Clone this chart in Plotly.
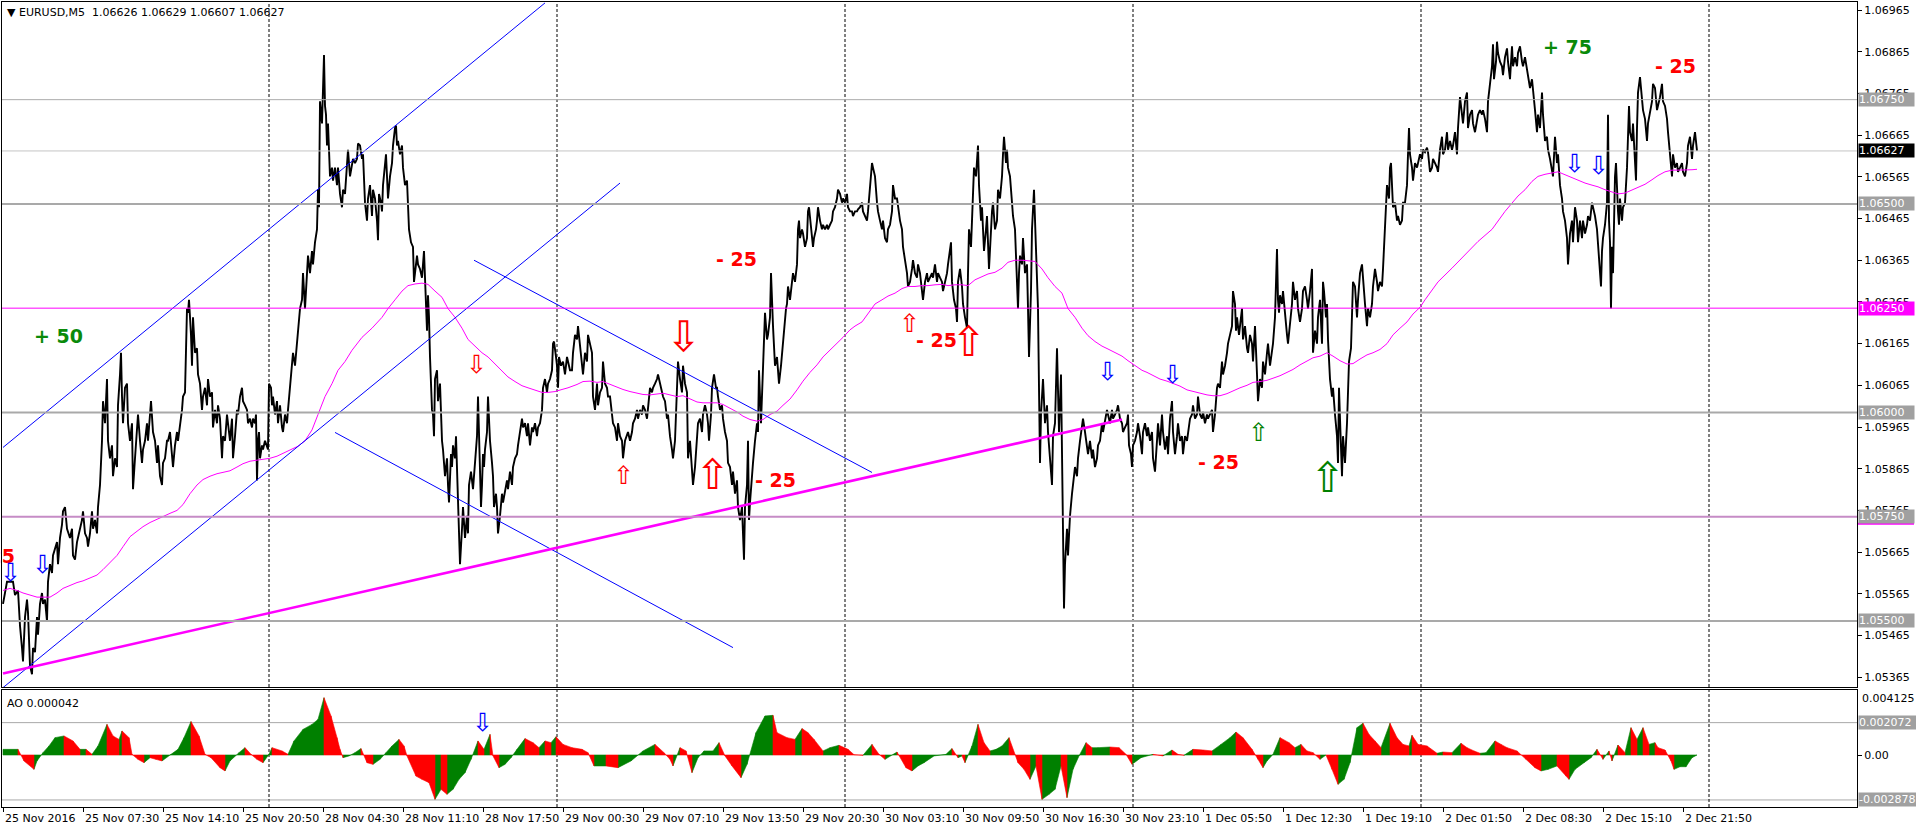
import plotly.graph_objects as go

FONT = "DejaVu Sans"

# ---------------- price path (bar index, price) ----------------
day1 = [(0,1.05541),(4,1.05594),(10,1.05594),(12,1.05562),(15,1.05573),(17,1.05488),(19,1.05435),(20,1.05403),(22,1.05509),(24,1.05551),(25,1.05520),(27,1.05393),(29,1.05372),(30,1.05435),(32,1.05425),(34,1.05509),(35,1.05467),(37,1.05541),(39,1.05567),(40,1.05541),(42,1.05551),(44,1.05499),(45,1.05594),(47,1.05636),(49,1.05615),(50,1.05657),(54,1.05689),(55,1.05636),(57,1.05699),(59,1.05731),(60,1.05763),(62,1.05773),(64,1.05721),(67,1.05699),(69,1.05721),(70,1.05657),(72,1.05647),(74,1.05689),(77,1.05721),(79,1.05742),(80,1.05763),(82,1.05710),(84,1.05699),(85,1.05678),(87,1.05710),(89,1.05763),(90,1.05721),(92,1.05742),(94,1.05710),(95,1.05773),(97,1.05826),(99,1.05932),(100,1.06027),(102,1.05974),(104,1.06080),(105,1.05932),(107,1.05890),(109,1.05921),(110,1.05847),(112,1.05890),(114,1.05869),(115,1.06017),(117,1.06091),(118,1.06143),(119,1.06038),(120,1.05974),(122,1.06059),(124,1.06069),(125,1.05974),(127,1.05932),(129,1.05974),(130,1.05816),(132,1.05890),(134,1.05974),(135,1.05995),(137,1.05932),(139,1.05879),(140,1.05911),(142,1.05932),(144,1.05974),(145,1.05932),(147,1.05995),(148,1.06027),(150,1.05953),(152,1.05932),(154,1.05879),(155,1.05921),(157,1.05847),(159,1.05826),(160,1.05879),(162,1.05890),(164,1.05932),(165,1.05932),(167,1.05953),(169,1.05900),(170,1.05869),(172,1.05921),(174,1.05953),(175,1.05932),(177,1.05964),(179,1.06006),(180,1.06038),(182,1.06048),(184,1.06249),(185,1.06239),(186,1.06270),(188,1.06186),(189,1.06112),(190,1.06228),(192,1.06143),(194,1.06154),(195,1.06091),(197,1.06069),(199,1.06006),(200,1.06038),(202,1.06059),(204,1.06017),(205,1.06080),(207,1.06038),(209,1.06048),(210,1.05964),(212,1.06006),(214,1.05974),(215,1.06017),(217,1.05985),(219,1.05890),(220,1.05943),(222,1.05932),(224,1.05995),(225,1.05974),(227,1.05932),(229,1.05985),(230,1.05890),(232,1.05943),(234,1.06006),(235,1.05995),(237,1.06038),(239,1.06059),(240,1.06027),(242,1.06017),(244,1.06006),(245,1.05974),(247,1.05985),(249,1.05964),(250,1.05985),(252,1.05974),(253,1.05995),(254,1.05837),(255,1.05932),(256,1.05953),(257,1.05890),(259,1.05921),(260,1.05911),(262,1.05932),(264,1.05921),(265,1.05911),(266,1.06069),(268,1.06059),(269,1.06017),(270,1.06038),(272,1.05995),(274,1.06027),(275,1.05974),(277,1.06017),(279,1.05964),(280,1.05953),(282,1.05995)]
day2 = [(284,1.05974),(285,1.06006),(287,1.06059),(289,1.06101),(290,1.06143),(292,1.06112),(294,1.06165),(295,1.06207),(297,1.06249),(299,1.06270),(300,1.06334),(302,1.06249),(304,1.06334),(305,1.06376),(307,1.06334),(309,1.06387),(310,1.06355),(312,1.06408),(314,1.06439),(315,1.06534),(316,1.06492),(317,1.06746),(319,1.06693),(320,1.06778),(321,1.06857),(322,1.06735),(323,1.06714),(324,1.06640),(325,1.06693),(326,1.06630),(327,1.06566),(329,1.06587),(330,1.06556),(332,1.06587),(334,1.06545),(335,1.06587),(337,1.06524),(339,1.06492),(340,1.06534),(342,1.06524),(344,1.06587),(345,1.06630),(347,1.06566),(349,1.06598),(350,1.06608),(352,1.06598),(354,1.06608),(355,1.06645),(357,1.06640),(359,1.06608),(360,1.06619),(362,1.06503),(364,1.06460),(365,1.06513),(367,1.06545),(369,1.06471),(370,1.06534),(372,1.06513),(374,1.06460),(375,1.06413),(376,1.06524),(378,1.06503),(379,1.06482),(380,1.06545),(382,1.06587),(383,1.06619),(385,1.06513),(386,1.06545),(387,1.06566),(389,1.06598),(390,1.06640),(392,1.06682),(393,1.06688),(394,1.06640),(395,1.06651),(397,1.06619),(399,1.06640),(400,1.06587),(402,1.06545),(404,1.06556),(405,1.06513),(406,1.06439),(408,1.06408),(410,1.06397),(411,1.06313),(413,1.06355),(414,1.06376),(415,1.06355),(417,1.06344),(419,1.06323),(420,1.06365),(421,1.06387),(422,1.06323),(423,1.06249),(424,1.06196),(425,1.06281),(426,1.06228),(427,1.06133),(429,1.06006),(430,1.05995),(431,1.05943),(432,1.06080),(434,1.06101),(435,1.06027),(437,1.06069),(439,1.05932),(440,1.05911),(442,1.05847),(444,1.05890),(445,1.05826),(446,1.05784),(448,1.05900),(449,1.05869),(450,1.05921),(452,1.05890),(453,1.05943),(454,1.05858),(455,1.05784),(456,1.05742),(457,1.05636),(459,1.05721),(460,1.05773),(462,1.05699),(464,1.05752),(465,1.05710),(466,1.05826),(468,1.05858),(469,1.05837),(470,1.05816),(472,1.05879),(474,1.05943),(475,1.06038),(476,1.05932),(478,1.05773),(479,1.05826),(480,1.05900),(481,1.05869),(482,1.05911),(484,1.05953),(485,1.06038),(486,1.05985),(487,1.05932),(489,1.05879),(490,1.05847),(491,1.05773),(493,1.05805),(494,1.05773),(495,1.05710),(497,1.05752),(499,1.05805),(500,1.05784),(502,1.05816),(504,1.05837),(505,1.05816),(507,1.05858),(509,1.05826),(510,1.05869),(512,1.05890),(514,1.05900),(515,1.05921),(517,1.05953),(519,1.05985),(520,1.05964),(522,1.05974),(524,1.05943),(525,1.05974),(527,1.05921),(529,1.05964),(530,1.05953),(532,1.05974),(534,1.05943),(535,1.05964),(537,1.05974),(539,1.06006),(540,1.06059),(542,1.06080),(544,1.06048),(545,1.06069),(547,1.06080),(549,1.06101),(550,1.06165),(551,1.06170),(553,1.06133),(554,1.06112),(555,1.06059),(556,1.06133),(558,1.06112),(560,1.06122),(562,1.06091),(564,1.06133),(565,1.06122),(567,1.06101)]
day3 = [(569,1.06101),(570,1.06143),(572,1.06186),(574,1.06175),(575,1.06207),(577,1.06165),(579,1.06122),(580,1.06091),(582,1.06143),(584,1.06122),(585,1.06186),(587,1.06165),(589,1.06143),(590,1.06038),(592,1.06006),(594,1.06069),(595,1.06017),(597,1.06048),(599,1.06059),(600,1.06122),(602,1.06069),(604,1.06059),(605,1.06038),(607,1.06038),(609,1.05995),(610,1.05974),(612,1.05964),(614,1.05932),(615,1.05974),(617,1.05943),(619,1.05932),(620,1.05890),(622,1.05932),(624,1.05943),(625,1.05953),(627,1.05932),(629,1.05953),(630,1.05974),(632,1.05985),(634,1.06006),(635,1.05985),(637,1.06006),(639,1.05995),(640,1.06017),(642,1.06006),(644,1.05985),(645,1.06006),(647,1.06059),(649,1.06048),(650,1.06059),(652,1.06069),(654,1.06080),(655,1.06091),(657,1.06069),(659,1.06048),(660,1.06038),(662,1.06027),(664,1.05985),(665,1.05995),(667,1.05943),(669,1.05911),(670,1.05890),(672,1.05932),(673,1.05995),(674,1.06059),(675,1.06122),(677,1.06080),(679,1.06048),(680,1.06112),(682,1.06069),(684,1.06048),(685,1.05890),(687,1.05932),(689,1.05858),(690,1.05826),(692,1.05869),(694,1.05943),(695,1.05974),(697,1.05985),(699,1.05953),(700,1.05995),(702,1.06017),(704,1.05995),(705,1.05974),(706,1.05932),(708,1.05995),(709,1.06059),(711,1.06091),(713,1.06059),(714,1.06059),(715,1.06038),(717,1.06006),(719,1.06017),(720,1.05985),(722,1.05953),(724,1.05932),(725,1.05879),(727,1.05869),(729,1.05826),(730,1.05858),(732,1.05805),(734,1.05837),(735,1.05773),(737,1.05742),(739,1.05773),(740,1.05721),(741,1.05647),(742,1.05773),(744,1.05826),(745,1.05932),(746,1.05742),(747,1.05784),(749,1.05858),(750,1.05879),(752,1.05932),(754,1.05974),(755,1.05953),(756,1.06101),(758,1.05974),(759,1.06038),(760,1.06112),(761,1.06186),(762,1.06239),(764,1.06175),(765,1.06186),(767,1.06228),(768,1.06334),(770,1.06207),(771,1.06143),(772,1.06112),(774,1.06133),(775,1.06091),(776,1.06069),(778,1.06112),(779,1.06143),(780,1.06165),(782,1.06217),(783,1.06249),(784,1.06260),(785,1.06302),(787,1.06270),(789,1.06313),(790,1.06334),(792,1.06313),(794,1.06355),(795,1.06439),(796,1.06460),(797,1.06418),(799,1.06439),(800,1.06429),(802,1.06397),(804,1.06418),(805,1.06482),(806,1.06492),(808,1.06439),(810,1.06397),(811,1.06418),(813,1.06439),(814,1.06460),(815,1.06492),(817,1.06460),(819,1.06439),(820,1.06450),(822,1.06439),(824,1.06450),(825,1.06439),(827,1.06450),(829,1.06460),(830,1.06482),(832,1.06492),(834,1.06513),(835,1.06534),(837,1.06524),(839,1.06503),(840,1.06513),(842,1.06503),(844,1.06524),(845,1.06492),(847,1.06482),(849,1.06482),(850,1.06471),(852,1.06482)]
day4 = [(854,1.06482),(855,1.06487),(857,1.06492),(859,1.06503),(860,1.06482),(862,1.06471),(864,1.06460),(865,1.06482),(867,1.06534),(869,1.06598),(870,1.06587),(872,1.06566),(874,1.06503),(875,1.06482),(877,1.06460),(879,1.06439),(880,1.06460),(882,1.06418),(884,1.06408),(885,1.06439),(887,1.06450),(889,1.06482),(890,1.06545),(892,1.06513),(894,1.06513),(895,1.06492),(897,1.06460),(899,1.06439),(900,1.06397),(902,1.06365),(904,1.06334),(905,1.06302),(907,1.06313),(909,1.06344),(910,1.06365),(912,1.06334),(914,1.06323),(915,1.06355),(917,1.06334),(919,1.06291),(920,1.06270),(922,1.06313),(924,1.06334),(925,1.06313),(927,1.06323),(929,1.06334),(930,1.06323),(932,1.06355),(934,1.06313),(935,1.06334),(937,1.06323),(939,1.06313),(940,1.06291),(942,1.06313),(944,1.06334),(945,1.06355),(947,1.06397),(948,1.06408),(949,1.06313),(951,1.06270),(953,1.06249),(954,1.06217),(955,1.06313),(957,1.06344),(959,1.06302),(960,1.06260),(962,1.06228),(964,1.06202),(965,1.06334),(966,1.06439),(968,1.06397),(969,1.06460),(970,1.06513),(971,1.06587),(973,1.06566),(974,1.06619),(975,1.06640),(976,1.06545),(978,1.06460),(979,1.06492),(980,1.06418),(981,1.06387),(983,1.06439),(984,1.06471),(986,1.06344),(987,1.06397),(989,1.06482),(990,1.06503),(992,1.06439),(994,1.06460),(995,1.06534),(997,1.06513),(999,1.06566),(1000,1.06619),(1001,1.06661),(1003,1.06598),(1004,1.06630),(1005,1.06587),(1007,1.06566),(1009,1.06503),(1010,1.06471),(1012,1.06439),(1014,1.06334),(1015,1.06249),(1016,1.06334),(1017,1.06376),(1019,1.06355),(1020,1.06418),(1022,1.06334),(1024,1.06355),(1025,1.06249),(1026,1.06133),(1028,1.06291),(1029,1.06439),(1031,1.06534),(1032,1.06460),(1034,1.06355),(1035,1.06249),(1036,1.06059),(1037,1.05879),(1038,1.05995),(1039,1.06048),(1040,1.06080),(1042,1.05974),(1044,1.06017),(1045,1.05953),(1047,1.05879),(1049,1.05826),(1050,1.05943),(1052,1.05974),(1054,1.06154),(1055,1.06038),(1056,1.05953),(1058,1.06091),(1059,1.05879),(1060,1.05752),(1061,1.05530),(1062,1.05636),(1064,1.05721),(1065,1.05657),(1067,1.05752),(1069,1.05805),(1070,1.05826),(1072,1.05869),(1074,1.05847),(1075,1.05890),(1077,1.05932),(1079,1.05974),(1080,1.05985),(1082,1.05953),(1084,1.05921),(1085,1.05900),(1087,1.05932),(1089,1.05890),(1090,1.05911),(1092,1.05869),(1094,1.05890),(1095,1.05921),(1097,1.05932),(1099,1.05974),(1100,1.05953),(1102,1.05985),(1104,1.06006),(1105,1.05995),(1107,1.05974),(1109,1.06006),(1110,1.05985),(1112,1.05995),(1114,1.06006),(1115,1.06017),(1117,1.05985),(1119,1.05974),(1120,1.05953),(1122,1.05964),(1124,1.05974),(1125,1.05995),(1126,1.05921),(1128,1.05900),(1129,1.05869),(1130,1.05921),(1132,1.05932),(1134,1.05953),(1135,1.05974),(1137,1.05943)]
day5 = [(1139,1.05900),(1140,1.05953),(1142,1.05974),(1144,1.05943),(1145,1.05964),(1147,1.05932),(1149,1.05953),(1150,1.05890),(1152,1.05858),(1154,1.05932),(1155,1.05974),(1157,1.05921),(1159,1.05995),(1160,1.05953),(1162,1.05911),(1164,1.05943),(1165,1.05900),(1167,1.05985),(1169,1.06027),(1170,1.05953),(1172,1.05900),(1174,1.05943),(1175,1.05974),(1177,1.05932),(1179,1.05943),(1180,1.05900),(1182,1.05943),(1184,1.05932),(1185,1.05953),(1187,1.05985),(1189,1.05995),(1190,1.06017),(1192,1.05985),(1194,1.05995),(1195,1.06038),(1197,1.05995),(1199,1.05985),(1200,1.06001),(1202,1.05974),(1204,1.05995),(1205,1.05985),(1207,1.05995),(1209,1.06006),(1210,1.05953),(1212,1.05995),(1214,1.06059),(1215,1.06069),(1217,1.06059),(1219,1.06122),(1220,1.06091),(1222,1.06112),(1224,1.06143),(1225,1.06165),(1227,1.06186),(1229,1.06207),(1230,1.06291),(1232,1.06260),(1233,1.06196),(1234,1.06228),(1236,1.06186),(1237,1.06207),(1239,1.06249),(1240,1.06175),(1242,1.06207),(1244,1.06154),(1245,1.06143),(1247,1.06186),(1249,1.06165),(1250,1.06122),(1252,1.06207),(1254,1.06091),(1255,1.06027),(1257,1.06080),(1259,1.06059),(1260,1.06122),(1262,1.06091),(1264,1.06143),(1265,1.06165),(1267,1.06112),(1269,1.06154),(1270,1.06165),(1272,1.06228),(1273,1.06344),(1274,1.06392),(1275,1.06270),(1276,1.06239),(1277,1.06281),(1279,1.06260),(1280,1.06291),(1282,1.06228),(1284,1.06186),(1285,1.06165),(1287,1.06207),(1289,1.06260),(1290,1.06313),(1292,1.06270),(1294,1.06291),(1295,1.06249),(1297,1.06217),(1299,1.06249),(1300,1.06291),(1302,1.06302),(1304,1.06270),(1305,1.06249),(1307,1.06291),(1309,1.06344),(1310,1.06143),(1312,1.06196),(1314,1.06165),(1315,1.06228),(1317,1.06270),(1319,1.06165),(1320,1.06313),(1321,1.06291),(1323,1.06228),(1324,1.06260),(1325,1.06175),(1327,1.06080),(1329,1.06038),(1330,1.06059),(1332,1.05995),(1334,1.05943),(1335,1.05879),(1336,1.06059),(1337,1.05985),(1339,1.05847),(1340,1.05943),(1342,1.05879),(1344,1.05974),(1345,1.06038),(1346,1.06122),(1348,1.06154),(1349,1.06249),(1350,1.06313),(1352,1.06302),(1354,1.06228),(1355,1.06270),(1357,1.06334),(1359,1.06355),(1360,1.06313),(1362,1.06260),(1364,1.06207),(1365,1.06249),(1367,1.06228),(1369,1.06260),(1370,1.06302),(1372,1.06344),(1374,1.06313),(1375,1.06291),(1377,1.06313),(1379,1.06302),(1380,1.06344),(1382,1.06439),(1383,1.06492),(1384,1.06545),(1386,1.06513),(1387,1.06587),(1388,1.06598),(1389,1.06534),(1390,1.06492),(1392,1.06503),(1394,1.06460),(1395,1.06471),(1397,1.06450),(1399,1.06460),(1400,1.06503),(1402,1.06503),(1404,1.06545),(1405,1.06619),(1406,1.06682),(1407,1.06619),(1409,1.06587),(1410,1.06556),(1412,1.06598),(1414,1.06587),(1415,1.06598),(1417,1.06619),(1419,1.06608),(1420,1.06630),(1422,1.06624)]
day6 = [(1424,1.06635),(1425,1.06624),(1427,1.06577),(1429,1.06587),(1430,1.06608),(1432,1.06598),(1434,1.06587),(1435,1.06577),(1437,1.06630),(1439,1.06661),(1440,1.06619),(1442,1.06630),(1444,1.06672),(1445,1.06630),(1447,1.06651),(1449,1.06630),(1450,1.06640),(1452,1.06672),(1454,1.06619),(1455,1.06682),(1457,1.06756),(1459,1.06714),(1460,1.06693),(1462,1.06746),(1464,1.06767),(1465,1.06682),(1467,1.06714),(1469,1.06725),(1470,1.06693),(1472,1.06672),(1474,1.06704),(1475,1.06714),(1477,1.06725),(1479,1.06714),(1480,1.06725),(1482,1.06704),(1484,1.06672),(1485,1.06746),(1487,1.06788),(1489,1.06830),(1490,1.06883),(1491,1.06799),(1493,1.06841),(1494,1.06889),(1495,1.06862),(1497,1.06841),(1499,1.06830),(1500,1.06809),(1502,1.06852),(1504,1.06873),(1505,1.06841),(1507,1.06799),(1509,1.06878),(1510,1.06830),(1512,1.06852),(1514,1.06830),(1515,1.06862),(1517,1.06878),(1519,1.06841),(1520,1.06830),(1522,1.06852),(1524,1.06820),(1525,1.06799),(1527,1.06778),(1529,1.06799),(1530,1.06767),(1532,1.06725),(1534,1.06672),(1535,1.06714),(1537,1.06682),(1539,1.06767),(1540,1.06714),(1542,1.06651),(1544,1.06661),(1545,1.06630),(1547,1.06608),(1549,1.06577),(1550,1.06566),(1552,1.06661),(1554,1.06598),(1555,1.06619),(1557,1.06545),(1559,1.06513),(1560,1.06482),(1562,1.06460),(1564,1.06418),(1565,1.06355),(1567,1.06429),(1569,1.06460),(1570,1.06408),(1572,1.06492),(1574,1.06460),(1575,1.06408),(1577,1.06460),(1579,1.06418),(1580,1.06460),(1582,1.06429),(1584,1.06450),(1585,1.06471),(1587,1.06460),(1589,1.06503),(1590,1.06492),(1592,1.06471),(1594,1.06439),(1595,1.06408),(1597,1.06355),(1598,1.06302),(1599,1.06387),(1600,1.06418),(1602,1.06450),(1604,1.06503),(1605,1.06714),(1606,1.06460),(1607,1.06408),(1608,1.06249),(1609,1.06397),(1610,1.06334),(1612,1.06566),(1613,1.06598),(1615,1.06482),(1616,1.06450),(1617,1.06513),(1619,1.06460),(1620,1.06492),(1622,1.06503),(1624,1.06587),(1625,1.06693),(1626,1.06735),(1627,1.06672),(1629,1.06651),(1630,1.06693),(1632,1.06608),(1633,1.06556),(1634,1.06682),(1635,1.06767),(1637,1.06804),(1639,1.06746),(1640,1.06725),(1642,1.06704),(1644,1.06651),(1645,1.06693),(1647,1.06725),(1649,1.06746),(1650,1.06788),(1652,1.06778),(1654,1.06725),(1655,1.06735),(1657,1.06756),(1659,1.06788),(1660,1.06746),(1662,1.06735),(1664,1.06704),(1665,1.06672),(1667,1.06619),(1669,1.06566),(1670,1.06619),(1672,1.06587),(1674,1.06598),(1675,1.06577),(1677,1.06587),(1679,1.06598),(1680,1.06577),(1682,1.06566),(1684,1.06598),(1685,1.06640),(1687,1.06661),(1689,1.06608),(1690,1.06640),(1692,1.06672),(1694,1.06627)]

# ---------------- moving average (magenta) ----------------
ma_line = [(0,1.05573),(7,1.05578),(14,1.05573),(20,1.05567),(27,1.05562),(34,1.05557),(40,1.05557),(47,1.05557),(54,1.05567),(60,1.05578),(67,1.05585),(74,1.05592),(80,1.05596),(87,1.05604),(94,1.05610),(100,1.05623),(107,1.05641),(114,1.05657),(120,1.05678),(127,1.05702),(134,1.05715),(140,1.05726),(147,1.05736),(154,1.05744),(160,1.05752),(167,1.05758),(174,1.05765),(180,1.05779),(187,1.05805),(194,1.05826),(200,1.05839),(207,1.05847),(214,1.05853),(220,1.05856),(227,1.05860),(234,1.05869),(240,1.05877),(247,1.05883),(254,1.05885),(260,1.05888),(267,1.05890),(274,1.05895),(280,1.05902),
(289,1.05911),(295,1.05919),(302,1.05932),(309,1.05958),(315,1.05995),(322,1.06038),(329,1.06069),(335,1.06101),(342,1.06122),(349,1.06149),(359,1.06180),(369,1.06202),(379,1.06228),(385,1.06249),(392,1.06270),(399,1.06291),(405,1.06304),(412,1.06308),(419,1.06310),(425,1.06307),(432,1.06291),(439,1.06276),(445,1.06249),(452,1.06228),(459,1.06202),(465,1.06175),(472,1.06159),(479,1.06143),(485,1.06133),(492,1.06117),(499,1.06101),(505,1.06085),(512,1.06074),(519,1.06064),(525,1.06059),(532,1.06054),(539,1.06048),(545,1.06048),(552,1.06050),(559,1.06055),(565,1.06059),
(574,1.06067),(580,1.06074),(587,1.06075),(594,1.06072),(600,1.06074),(607,1.06067),(614,1.06061),(620,1.06055),(627,1.06050),(634,1.06046),(640,1.06043),(647,1.06042),(654,1.06045),(660,1.06046),(667,1.06042),(674,1.06038),(680,1.06040),(687,1.06032),(694,1.06025),(700,1.06023),(707,1.06023),(714,1.06023),(720,1.06019),(727,1.06011),(734,1.06001),(740,1.05991),(747,1.05983),(754,1.05979),(760,1.05983),(767,1.05995),(774,1.06003),(780,1.06017),(787,1.06032),(794,1.06054),(800,1.06075),(807,1.06096),(814,1.06114),(820,1.06133),(827,1.06149),(834,1.06165),(840,1.06180),(847,1.06198),
(852,1.06207),(859,1.06217),(865,1.06236),(872,1.06260),(879,1.06270),(885,1.06279),(892,1.06286),(899,1.06297),(905,1.06302),(912,1.06302),(919,1.06304),(925,1.06304),(932,1.06306),(939,1.06307),(945,1.06304),(952,1.06306),(959,1.06306),(965,1.06304),(972,1.06318),(979,1.06325),(985,1.06332),(992,1.06336),(999,1.06346),(1005,1.06360),(1012,1.06365),(1019,1.06365),(1025,1.06363),(1032,1.06362),(1039,1.06344),(1045,1.06323),(1052,1.06302),(1059,1.06286),(1065,1.06249),(1072,1.06228),(1079,1.06202),(1085,1.06184),(1092,1.06170),(1099,1.06159),(1105,1.06152),(1112,1.06143),(1119,1.06135),(1125,1.06124),(1132,1.06112),(1139,1.06101),
(1144,1.06096),(1150,1.06088),(1157,1.06080),(1164,1.06075),(1170,1.06069),(1177,1.06063),(1184,1.06054),(1190,1.06050),(1197,1.06045),(1204,1.06042),(1210,1.06040),(1217,1.06040),(1224,1.06045),(1230,1.06052),(1237,1.06059),(1244,1.06065),(1250,1.06072),(1257,1.06074),(1264,1.06077),(1270,1.06082),(1277,1.06088),(1284,1.06096),(1290,1.06103),(1297,1.06114),(1304,1.06124),(1310,1.06131),(1317,1.06135),(1324,1.06143),(1330,1.06135),(1337,1.06124),(1344,1.06116),(1350,1.06117),(1357,1.06128),(1364,1.06138),(1370,1.06143),(1377,1.06151),(1384,1.06165),(1390,1.06186),(1397,1.06202),(1404,1.06217),(1410,1.06236),(1417,1.06252),
(1422,1.06270),(1435,1.06313),(1449,1.06346),(1462,1.06378),(1475,1.06410),(1489,1.06439),(1502,1.06482),(1515,1.06519),(1522,1.06534),(1529,1.06554),(1535,1.06566),(1542,1.06571),(1549,1.06575),(1555,1.06577),(1562,1.06570),(1569,1.06563),(1575,1.06556),(1582,1.06550),(1589,1.06545),(1595,1.06541),(1602,1.06534),(1609,1.06528),(1615,1.06524),(1622,1.06526),(1629,1.06534),(1635,1.06540),(1642,1.06547),(1649,1.06558),(1655,1.06568),(1662,1.06577),(1669,1.06581),(1675,1.06581),(1682,1.06581),(1689,1.06582),(1694,1.06583)]

# ---------------- Awesome Oscillator (bar, value x1e-5) ----------------
ao_points = [(0,36),(15,36),(21,-38),(31,-92),(34,-38),(40,15),(46,58),(52,111),(61,122),(70,90),(77,36),(83,36),(89,4),(95,58),(104,196),(110,122),(116,100),(119,154),(126,111),(129,4),(135,-28),(141,-49),(147,-17),(153,-28),(159,-38),(168,4),(175,36),(181,111),(188,214),(196,122),(202,4),(208,-17),(217,-81),(222,-102),(227,-38),(236,15),(242,47),(248,4),(254,-28),(260,-49),(266,4),(269,47),(279,26),(285,4),(291,90),(300,164),(309,196),(315,228),(321,367),(328,250),(334,111),(337,36),(340,-17),(346,-6),(352,15),(358,41),(364,-49),(370,-60),(377,-28),(383,15),(389,58),(396,100),(401,58),(404,-6),(413,-135),(419,-156),(426,-177),(432,-284),(438,-220),(444,-252),(450,-220),(456,-156),(462,-113),(468,-28),(475,90),(481,36),(487,132),(490,-6),(496,-81),(502,-60),(508,-17),(514,36),(522,105),(530,79),(536,47),(542,90),(548,79),(553,117),(560,68),(569,47),(579,36),(585,15),(591,-70),(603,-70),(615,-81),(628,-38),(640,26),(652,68),(661,15),(667,-28),(670,-70),(677,47),(683,26),(689,-113),(695,-17),(701,26),(710,26),(716,79),(722,-6),(729,-70),(738,-145),(744,-60),(753,143),(762,250),(770,254),(774,143),(784,111),(792,100),(799,169),(805,143),(811,100),(820,26),(827,47),(836,62),(845,36),(851,2),(860,-2),(869,68),(876,4),(882,-28),(894,19),(903,-81),(909,-102),(915,-70),(921,-49),(931,-6),(943,4),(949,41),(955,-17),(959,-6),(962,-49),(969,58),(975,196),(981,79),(987,26),(993,36),(999,58),(1006,111),(1012,4),(1015,-49),(1021,-92),(1027,-156),(1033,-70),(1039,-284),(1046,-252),(1052,-220),(1058,-70),(1064,-273),(1070,-92),(1076,-6),(1083,79),(1089,47),(1095,47),(1107,51),(1116,47),(1123,4),(1129,-60),(1138,-17),(1150,4),(1160,-6),(1169,32),(1175,4),(1181,-2),(1190,36),(1200,32),(1209,26),(1218,68),(1227,111),(1233,147),(1240,111),(1249,36),(1255,-28),(1260,-81),(1264,-38),(1270,4),(1277,111),(1286,79),(1292,47),(1298,68),(1304,26),(1310,15),(1317,-28),(1323,0),(1329,-92),(1335,-188),(1341,-156),(1347,-49),(1354,175),(1360,203),(1366,132),(1372,90),(1378,47),(1387,203),(1394,111),(1400,68),(1406,58),(1409,126),(1415,68),(1424,58),(1434,11),(1440,19),(1449,15),(1458,75),(1464,47),(1471,26),(1477,11),(1483,15),(1492,90),(1498,68),(1504,47),(1514,26),(1523,-28),(1532,-81),(1538,-102),(1545,-92),(1554,-70),(1563,-135),(1566,-156),(1572,-92),(1581,-49),(1588,-17),(1594,36),(1600,-28),(1606,26),(1609,-38),(1615,64),(1622,15),(1628,175),(1634,100),(1640,175),(1646,68),(1652,79),(1655,47),(1662,32),(1668,-38),(1671,-92),(1677,-75),(1683,-75),(1689,-17),(1694,0)]

# ---------------- drawn objects ----------------
channel_upper = [(0, 1.05916), (542, 1.06982)]
channel_lower = [(0, 1.05340), (617, 1.06550)]
falling_upper = [(471, 1.06365), (869, 1.05856)]
falling_lower = [(332, 1.05952), (730, 1.05436)]
support_line = [(0, 1.05374), (1119, 1.05983)]

levels = [1.06750, 1.06627, 1.06500, 1.06250, 1.06000, 1.05750, 1.05500]
price_ticks = [1.05365 + 0.001 * k for k in range(17)]

time_labels = ["25 Nov 2016", "25 Nov 07:30", "25 Nov 14:10", "25 Nov 20:50", "28 Nov 04:30",
               "28 Nov 11:10", "28 Nov 17:50", "29 Nov 00:30", "29 Nov 07:10", "29 Nov 13:50",
               "29 Nov 20:30", "30 Nov 03:10", "30 Nov 09:50", "30 Nov 16:30", "30 Nov 23:10",
               "1 Dec 05:50", "1 Dec 12:30", "1 Dec 19:10", "2 Dec 01:50", "2 Dec 08:30",
               "2 Dec 15:10", "2 Dec 21:50"]
time_label_bars = [80 * i for i in range(len(time_labels))]
day_starts = [266, 554, 842, 1130, 1418, 1706]

# (bar, price, text, colour)
result_labels = [(55, 1.06183, "+ 50", "#0A8A0A"), (733, 1.06368, "- 25", "#FF0000"),
                 (772, 1.05838, "- 25", "#FF0000"), (933, 1.06174, "- 25", "#FF0000"),
                 (1215, 1.05881, "- 25", "#FF0000"), (1564, 1.06876, "+ 75", "#0A8A0A"),
                 (1672, 1.06831, "- 25", "#FF0000")]
# (bar, price, direction, colour, size)
signal_arrows = [(7, 1.05615, "down", "#0000FF", "s"), (39, 1.05636, "down", "#0000FF", "s"),
                 (473, 1.06114, "down", "#FF0000", "s"), (680, 1.06183, "down", "#FF0000", "b"),
                 (620, 1.05848, "up", "#FF0000", "s"), (709, 1.05850, "up", "#FF0000", "b"),
                 (906, 1.06214, "up", "#FF0000", "s"), (965, 1.06171, "up", "#FF0000", "b"),
                 (1104, 1.06097, "down", "#0000FF", "s"), (1169, 1.06092, "down", "#0000FF", "s"),
                 (1255, 1.05951, "up", "#008000", "s"), (1324, 1.05845, "up", "#008000", "b"),
                 (1571, 1.06596, "down", "#0000FF", "s"), (1595, 1.06591, "down", "#0000FF", "s")]

# ---------------- geometry ----------------
W, H = 1916, 832
ML, MR, MT, MB = 2, 59, 2, 25
PLOT_H = H - MT - MB
MAIN_BOTTOM_PX, AO_TOP_PX = 687.3, 690
main_dom = [(H - MB - MAIN_BOTTOM_PX) / PLOT_H, 1]
ao_dom = [0, (H - MB - AO_TOP_PX) / PLOT_H]
X_RANGE = [-1, 1854]
Y_RANGE = [1.053408, 1.069842]
AO_RANGE = [-0.00333, 0.004162]
SMALL_ARROW, BIG_ARROW = 25, 42

def ypaper_main(p):
    f = (p - Y_RANGE[0]) / (Y_RANGE[1] - Y_RANGE[0])
    return main_dom[0] + f * (main_dom[1] - main_dom[0])

fig = go.Figure()

segments = [day1, day2, day3, day4, day5, day6]
px_x = [b for seg in segments for b, _ in seg]
px_y = [p for seg in segments for _, p in seg]

# AO histogram as coloured mountain shapes
gx, gy, rx, ry = [], [], [], []
for (b0, v0), (b1, v1) in zip(ao_points[:-1], ao_points[1:]):
    xs = [b0, b0, b1, b1, b0, None]
    ys = [0, v0 * 1e-5, v1 * 1e-5, 0, 0, None]
    if v1 >= v0:
        gx += xs; gy += ys
    else:
        rx += xs; ry += ys
fig.add_trace(go.Scatter(x=gx, y=gy, xaxis="x2", yaxis="y2", mode="lines", fill="toself",
                         fillcolor="#008000", line=dict(width=0.6, color="#008000"), hoverinfo="skip"))
fig.add_trace(go.Scatter(x=rx, y=ry, xaxis="x2", yaxis="y2", mode="lines", fill="toself",
                         fillcolor="#FF0000", line=dict(width=0.6, color="#FF0000"), hoverinfo="skip"))

fig.add_trace(go.Scatter(x=px_x, y=px_y, mode="lines", line=dict(color="black", width=1.9),
                         hoverinfo="skip"))
fig.add_trace(go.Scatter(x=[b for b, _ in ma_line], y=[p for _, p in ma_line], mode="lines",
                         line=dict(color="#FF00FF", width=1), hoverinfo="skip"))
for ln in [channel_upper, channel_lower, falling_upper, falling_lower]:
    fig.add_trace(go.Scatter(x=[b for b, _ in ln], y=[p for _, p in ln], mode="lines",
                             line=dict(color="#0000FF", width=1), hoverinfo="skip"))
fig.add_trace(go.Scatter(x=[b for b, _ in support_line], y=[p for _, p in support_line], mode="lines",
                         line=dict(color="#FF00FF", width=2.6), hoverinfo="skip"))

shapes = []
level_style = {1.06750: ("#ABABAB", 1), 1.06627: ("#C4C4C4", 1), 1.06500: ("#A9A9A9", 2),
               1.06250: ("#FF00FF", 1), 1.06000: ("#A9A9A9", 2), 1.05750: ("#C68CC6", 2),
               1.05500: ("#A9A9A9", 2)}
for lv in levels:
    c, w = level_style[lv]
    shapes.append(dict(type="line", xref="paper", x0=0, x1=1, yref="y", y0=lv, y1=lv,
                       line=dict(color=c, width=w), layer="above"))
for lv in [0.002072, -0.002878]:
    shapes.append(dict(type="line", xref="paper", x0=0, x1=1, yref="y2", y0=lv, y1=lv,
                       line=dict(color="#A9A9A9", width=1), layer="below"))
for d in day_starts:
    shapes.append(dict(type="line", xref="x", x0=d, x1=d, yref="paper", y0=0, y1=1,
                       line=dict(color="black", width=1, dash="3px,2px"), layer="below"))
# magenta underline of the 1.05750 price tag
uy = ypaper_main(1.0575) - 7 / PLOT_H
shapes.append(dict(type="line", xref="paper", x0=1 + 1 / (W - ML - MR), x1=1 + 57 / (W - ML - MR),
                   yref="paper", y0=uy, y1=uy, line=dict(color="#FF00FF", width=2)))

ann = []
ann.append(dict(xref="paper", yref="paper", x=0, y=1, xanchor="left", yanchor="top", xshift=3, yshift=-2,
                text="\u25BC EURUSD,M5\u00a0\u00a01.06626 1.06629 1.06607 1.06627", showarrow=False,
                font=dict(family=FONT, size=11, color="black")))
ann.append(dict(xref="paper", yref="y2", x=0, y=0.00332, xanchor="left", yanchor="middle", xshift=3,
                text="AO 0.000042", showarrow=False, font=dict(family=FONT, size=11, color="black")))
for t, b in zip(time_labels, time_label_bars):
    ann.append(dict(xref="x2", yref="paper", x=b, y=0, xanchor="left", yanchor="top", yshift=-3,
                    text=t, showarrow=False, font=dict(family=FONT, size=11, color="black")))
tag_colors = {1.06627: ("black", "white"), 1.06250: ("#FF00FF", "white")}
for lv in levels:
    bg, fg = tag_colors.get(lv, ("#A0A0A0", "white"))
    ann.append(dict(xref="paper", yref="y", x=1, y=lv, xanchor="left", yanchor="middle", xshift=1,
                    text=f"{lv:.5f}", showarrow=False, bgcolor=bg, width=55, height=13, align="left",
                    borderpad=0, font=dict(family=FONT, size=11, color=fg)))
for lv, txt in [(0.002072, "0.002072"), (-0.002878, "-0.002878")]:
    ann.append(dict(xref="paper", yref="y2", x=1, y=lv, xanchor="left", yanchor="middle", xshift=1,
                    text=txt, showarrow=False, bgcolor="#A0A0A0", width=62, height=13, align="left",
                    borderpad=0, font=dict(family=FONT, size=11, color="white")))
ann.append(dict(xref="paper", yref="y2", x=1, y=0.00359, xanchor="left", yanchor="middle", xshift=3,
                text="0.004125", showarrow=False, font=dict(family=FONT, size=11, color="black")))
for b, p, t, c in result_labels:
    ann.append(dict(xref="x", yref="y", x=b, y=p, text=t, showarrow=False,
                    font=dict(family=FONT, size=19, color=c, weight="bold")))
ann.append(dict(xref="x", yref="y", x=14, y=1.05656, xanchor="right", text="- 25", showarrow=False,
                font=dict(family=FONT, size=19, color="#FF0000", weight="bold")))
for b, p, d, c, s in signal_arrows:
    ann.append(dict(xref="x", yref="y", x=b, y=p, text="\u21E9" if d == "down" else "\u21E7",
                    showarrow=False, font=dict(family=FONT, size=SMALL_ARROW if s == "s" else BIG_ARROW, color=c)))
ann.append(dict(xref="x2", yref="y2", x=479, y=0.00211, text="\u21E9", showarrow=False,
                font=dict(family=FONT, size=SMALL_ARROW, color="#0000FF")))

axis_common = dict(showgrid=False, zeroline=False, showline=True, linecolor="black", linewidth=1, mirror=True)
fig.update_layout(
    width=W, height=H, margin=dict(l=ML, r=MR, t=MT, b=MB),
    plot_bgcolor="white", paper_bgcolor="white", showlegend=False,
    font=dict(family=FONT, size=11, color="black"),
    xaxis=dict(domain=[0, 1], range=X_RANGE, anchor="y", showticklabels=False, ticks="", **axis_common),
    yaxis=dict(domain=main_dom, range=Y_RANGE, anchor="x", side="right", tickvals=price_ticks,
               ticktext=[f"{v:.5f}" for v in price_ticks], ticks="outside", ticklen=4, tickcolor="black",
               tickfont=dict(family=FONT, size=11, color="black"), **axis_common),
    xaxis2=dict(domain=[0, 1], range=X_RANGE, anchor="y2", matches="x", showticklabels=False,
                tickvals=time_label_bars, ticks="outside", ticklen=4, tickcolor="black", **axis_common),
    yaxis2=dict(domain=ao_dom, range=AO_RANGE, anchor="x2", side="right", tickvals=[0], ticktext=["0.00"],
                ticks="outside", ticklen=4, tickcolor="black",
                tickfont=dict(family=FONT, size=11, color="black"), **axis_common),
    shapes=shapes, annotations=ann,
)

fig.write_html("out.html", config={"displayModeBar": False},
               post_script="document.body.style.margin='0px';document.body.style.overflow='hidden';")
